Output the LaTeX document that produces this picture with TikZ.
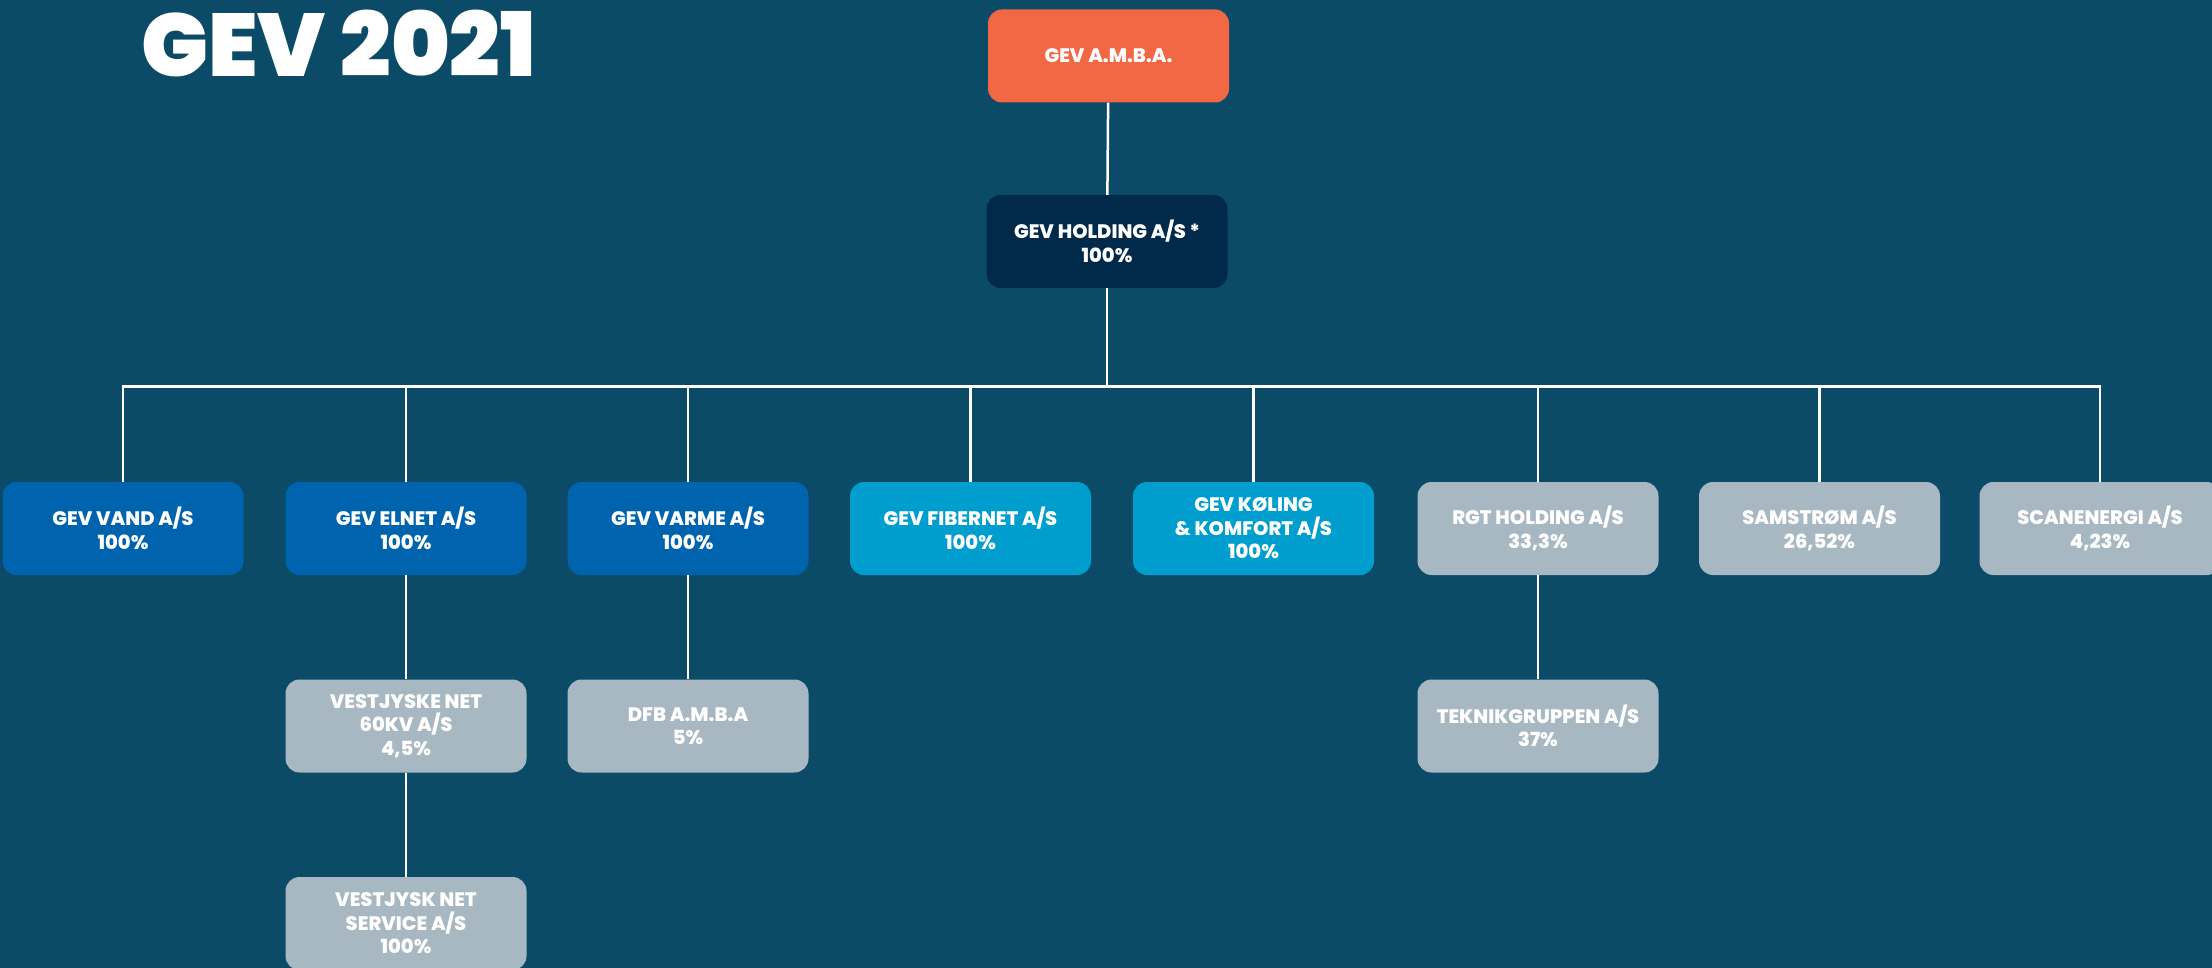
\documentclass[tikz,border=0pt]{standalone}
\usepackage{fontspec}
\setmainfont{Poppins}[BoldFont={* ExtraBold}]
\newfontfamily\titlefont{Poppins}[UprightFont={* Black}]
\definecolor{bg}{HTML}{0B4B67}
\definecolor{amba}{HTML}{F26744}
\definecolor{navy}{HTML}{012A4A}
\definecolor{gevblue}{HTML}{0063AE}
\definecolor{lightblue}{HTML}{009ECE}
\definecolor{share}{HTML}{A8B8C2}
\tikzset{unit/.style = {shape=rectangle,rounded corners=14pt,minimum width=241pt,minimum height=93pt,
    inner sep=0pt,align=center,text=white,font=\bfseries\fontsize{19.5}{23.5}\selectfont}}
\tikzset{edge/.style = {draw=white,line width=2.5pt}}

\begin{document}
\begin{tikzpicture}[x=1pt,y=-1pt]
          \fill[bg] (0,0) rectangle (2212,968);
          \useasboundingbox (0,0) rectangle (2212,968);
          \node[anchor=base west,inner sep=0pt,text=white,font=\titlefont\fontsize{89}{89}\selectfont] (title) at (141,76.7) {GEV 2021};

          \node[unit,fill=amba] (amba) at (1108.5,56) {GEV A.M.B.A.};
          \node[unit,fill=navy] (holding) at (1107,241.5) {GEV HOLDING A/S\,*\\100\%};
          \coordinate (bus) at (1107,386.5);

          \node[unit,fill=gevblue] (vand) at (123,528.5) {GEV VAND A/S\\100\%};
          \node[unit,fill=gevblue] (elnet) at (406,528.5) {GEV ELNET A/S\\100\%};
          \node[unit,fill=gevblue] (varme) at (688,528.5) {GEV VARME A/S\\100\%};
          \node[unit,fill=lightblue] (fibernet) at (970.5,528.5) {GEV FIBERNET A/S\\100\%};
          \node[unit,fill=lightblue] (koling) at (1253.5,528.5) {GEV KØLING\\\& KOMFORT A/S\\100\%};
          \node[unit,fill=share] (rgt) at (1538,528.5) {RGT HOLDING A/S\\33,3\%};
          \node[unit,fill=share] (samstrom) at (1819.5,528.5) {SAMSTRØM A/S\\26,52\%};
          \node[unit,fill=share] (scanenergi) at (2100,528.5) {SCANENERGI A/S\\4,23\%};

          \node[unit,fill=share] (vestnet) at (406,726) {VESTJYSKE NET\\60KV A/S\\4,5\%};
          \node[unit,fill=share] (dfb) at (688,726) {DFB A.M.B.A\\5\%};
          \node[unit,fill=share] (teknik) at (1538,726) {TEKNIKGRUPPEN A/S\\37\%};
          \node[unit,fill=share] (service) at (406,923.5) {VESTJYSK NET\\SERVICE A/S\\100\%};

          \draw[edge] (amba) -- (holding);
          \draw[edge] (holding) -- (bus);
          \foreach \child in {vand,elnet,varme,fibernet,koling,rgt,samstrom,scanenergi}
            \draw[edge] (\child) |- (bus);
          \draw[edge] (elnet) -- (vestnet);
          \draw[edge] (vestnet) -- (service);
          \draw[edge] (varme) -- (dfb);
          \draw[edge] (rgt) -- (teknik);
        \end{tikzpicture}
\end{document}
